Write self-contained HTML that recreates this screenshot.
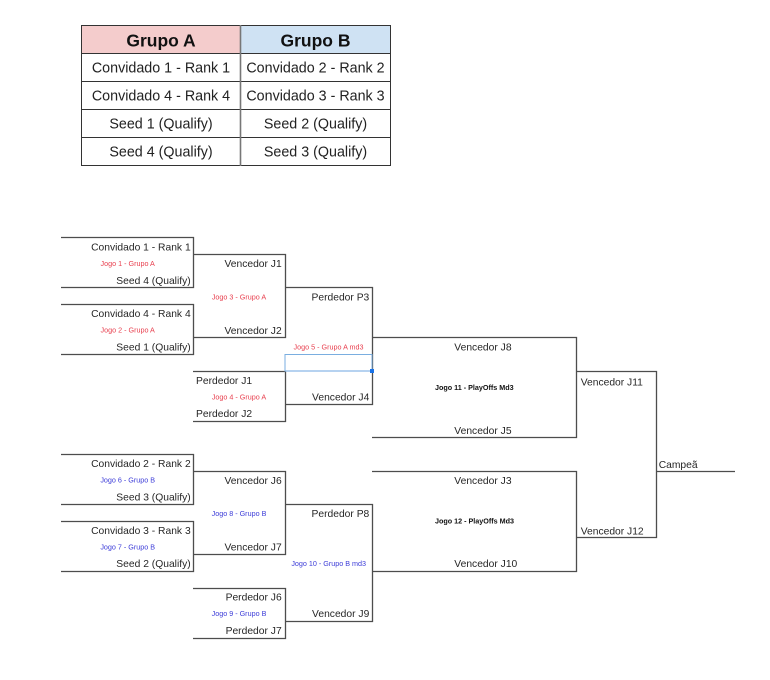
<!DOCTYPE html>
<html><head><meta charset="utf-8"><style>
html,body{margin:0;padding:0;background:#fff;}
svg{display:block;}
text{font-family:"Liberation Sans",Arial,sans-serif;}
.t{font-size:10.3px;fill:#262626;}
.r{font-size:7.2px;fill:#e8404f;}
.b{font-size:7.2px;fill:#3c3cd8;}
.k{font-size:7.2px;font-weight:bold;fill:#111;}
.tb{font-size:14.3px;fill:#222;}
.h{font-size:17.5px;font-weight:bold;fill:#111;}
</style></head><body>
<svg width="770" height="680" viewBox="0 0 770 680" xmlns="http://www.w3.org/2000/svg">
<rect width="770" height="680" fill="#fff"/>
<!-- Table -->
<rect x="82" y="26" width="158" height="27" fill="#f4cccc"/>
<rect x="240" y="26" width="150" height="27" fill="#cfe2f3"/>
<g stroke="#333" stroke-width="1" fill="none">
<rect x="81.5" y="25.5" width="309" height="140"/>
<line x1="81" y1="53.5" x2="391" y2="53.5"/>
<line x1="81" y1="81.5" x2="391" y2="81.5"/>
<line x1="81" y1="109.5" x2="391" y2="109.5"/>
<line x1="81" y1="137.5" x2="391" y2="137.5"/>
</g>
<line x1="240.5" y1="25" x2="240.5" y2="166" stroke="#777" stroke-width="1.6"/>
<text class="h" x="161" y="46.5" text-anchor="middle">Grupo A</text>
<text class="h" x="315.5" y="46.5" text-anchor="middle">Grupo B</text>
<text class="tb" x="161" y="72.3" text-anchor="middle">Convidado 1 - Rank 1</text>
<text class="tb" x="315.5" y="72.3" text-anchor="middle">Convidado 2 - Rank 2</text>
<text class="tb" x="161" y="100.3" text-anchor="middle">Convidado 4 - Rank 4</text>
<text class="tb" x="315.5" y="100.3" text-anchor="middle">Convidado 3 - Rank 3</text>
<text class="tb" x="161" y="128.3" text-anchor="middle">Seed 1 (Qualify)</text>
<text class="tb" x="315.5" y="128.3" text-anchor="middle">Seed 2 (Qualify)</text>
<text class="tb" x="161" y="156.3" text-anchor="middle">Seed 4 (Qualify)</text>
<text class="tb" x="315.5" y="156.3" text-anchor="middle">Seed 3 (Qualify)</text>

<!-- Bracket lines -->
<g stroke="#4d4d4d" stroke-width="1.3" fill="none">
<polyline points="61,237.5 193.5,237.5 193.5,287.5 61,287.5"/>
<polyline points="61,304.5 193.5,304.5 193.5,354.5 61,354.5"/>
<polyline points="193,254.5 285.5,254.5 285.5,337.5 193,337.5"/>
<polyline points="193,371.5 285.5,371.5 285.5,421.5 193,421.5"/>
<polyline points="285,287.5 372.5,287.5 372.5,404.5 285,404.5"/>
<polyline points="372,337.5 576.5,337.5 576.5,437.5 372,437.5"/>
<polyline points="576,371.5 656.5,371.5 656.5,537.5 576,537.5"/>
<line x1="656" y1="471.5" x2="735" y2="471.5"/>
<polyline points="61,454.5 193.5,454.5 193.5,504.5 61,504.5"/>
<polyline points="61,521.5 193.5,521.5 193.5,571.5 61,571.5"/>
<polyline points="193,471.5 285.5,471.5 285.5,554.5 193,554.5"/>
<polyline points="193,588.5 285.5,588.5 285.5,638.5 193,638.5"/>
<polyline points="285,504.5 372.5,504.5 372.5,621.5 285,621.5"/>
<polyline points="372,471.5 576.5,471.5 576.5,571.5 372,571.5"/>
</g>
<!-- selection -->
<rect x="285" y="354.5" width="87" height="16.5" fill="none" stroke="#7aaee0" stroke-width="1"/>
<line x1="285" y1="371" x2="372" y2="371" stroke="#8ab8e6" stroke-width="1.2"/>
<rect x="370" y="369" width="4" height="4" fill="#1a73e8"/>

<!-- Group A texts -->
<text class="t" x="190.7" y="250.5" text-anchor="end">Convidado 1 - Rank 1</text>
<text class="r" x="127.7" y="265.9" text-anchor="middle">Jogo 1 - Grupo A</text>
<text class="t" x="190.7" y="283.8" text-anchor="end">Seed 4 (Qualify)</text>
<text class="t" x="190.7" y="317.1" text-anchor="end">Convidado 4 - Rank 4</text>
<text class="r" x="127.7" y="332.6" text-anchor="middle">Jogo 2 - Grupo A</text>
<text class="t" x="190.7" y="350.5" text-anchor="end">Seed 1 (Qualify)</text>
<text class="t" x="281.7" y="267.1" text-anchor="end">Vencedor J1</text>
<text class="r" x="239" y="299.3" text-anchor="middle">Jogo 3 - Grupo A</text>
<text class="t" x="281.7" y="333.8" text-anchor="end">Vencedor J2</text>
<text class="t" x="196" y="383.8">Perdedor J1</text>
<text class="r" x="239" y="399.3" text-anchor="middle">Jogo 4 - Grupo A</text>
<text class="t" x="196" y="417.1">Perdedor J2</text>
<text class="t" x="369.3" y="300.5" text-anchor="end">Perdedor P3</text>
<text class="r" x="328.5" y="349.3" text-anchor="middle">Jogo 5 - Grupo A md3</text>
<text class="t" x="369.3" y="400.5" text-anchor="end">Vencedor J4</text>
<text class="t" x="454.3" y="350.5">Vencedor J8</text>
<text class="k" x="474.3" y="389.9" text-anchor="middle">Jogo 11 - PlayOffs Md3</text>
<text class="t" x="454.3" y="433.8">Vencedor J5</text>
<text class="t" x="580.7" y="385.5">Vencedor J11</text>
<text class="t" x="658.7" y="467.8">Campeã</text>
<text class="t" x="580.7" y="534.5">Vencedor J12</text>

<!-- Group B texts -->
<text class="t" x="190.7" y="467.1" text-anchor="end">Convidado 2 - Rank 2</text>
<text class="b" x="127.7" y="482.6" text-anchor="middle">Jogo 6 - Grupo B</text>
<text class="t" x="190.7" y="500.5" text-anchor="end">Seed 3 (Qualify)</text>
<text class="t" x="190.7" y="533.8" text-anchor="end">Convidado 3 - Rank 3</text>
<text class="b" x="127.7" y="549.3" text-anchor="middle">Jogo 7 - Grupo B</text>
<text class="t" x="190.7" y="567.1" text-anchor="end">Seed 2 (Qualify)</text>
<text class="t" x="281.7" y="483.8" text-anchor="end">Vencedor J6</text>
<text class="b" x="239" y="515.9" text-anchor="middle">Jogo 8 - Grupo B</text>
<text class="t" x="281.7" y="550.5" text-anchor="end">Vencedor J7</text>
<text class="t" x="281.7" y="600.5" text-anchor="end">Perdedor J6</text>
<text class="b" x="239" y="615.9" text-anchor="middle">Jogo 9 - Grupo B</text>
<text class="t" x="281.7" y="633.8" text-anchor="end">Perdedor J7</text>
<text class="t" x="369.3" y="517.1" text-anchor="end">Perdedor P8</text>
<text class="b" x="328.7" y="565.9" text-anchor="middle">Jogo 10 - Grupo B md3</text>
<text class="t" x="369.3" y="617.1" text-anchor="end">Vencedor J9</text>
<text class="t" x="454.3" y="483.8">Vencedor J3</text>
<text class="k" x="474.5" y="523.6" text-anchor="middle">Jogo 12 - PlayOffs Md3</text>
<text class="t" x="454.3" y="567.1">Vencedor J10</text>
</svg>
</body></html>
